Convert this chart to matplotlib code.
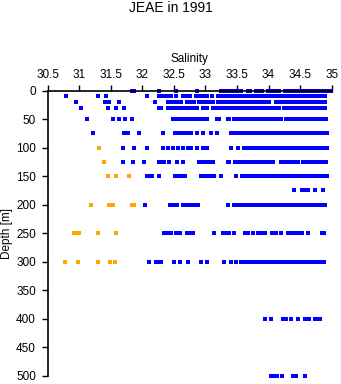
import matplotlib
matplotlib.use("Agg")
import matplotlib.pyplot as plt
import numpy as np

plt.rcParams['font.family'] = ['Liberation Sans', 'DejaVu Sans']

title = "JEAE in 1991"
xlabel = "Salinity"
ylabel = "Depth [m]"
xticks = [30.5, 31, 31.5, 32, 32.5, 33, 33.5, 34, 34.5, 35]
xticklabels = ["30.5", "31", "31.5", "32", "32.5", "33", "33.5", "34", "34.5", "35"]
yticks = [0, 50, 100, 150, 200, 250, 300, 350, 400, 450, 500]

# blue (regular) salinity values per depth
sal_0 = [31.84, 31.86, 32.27, 32.53, 32.87,
         33.25, 33.29, 33.33, 33.37, 33.41, 33.45, 33.49, 33.53, 33.57,
         33.68, 33.70, 33.80, 33.84, 33.87, 33.90, 33.99, 34.03, 34.07, 34.10,
         34.14, 34.17, 34.26, 34.30, 34.35,
         34.39, 34.43, 34.47, 34.51, 34.55, 34.59, 34.63, 34.67, 34.71, 34.75,
         34.79, 34.83, 34.87, 34.91, 34.95, 34.99]
sal_10 = [30.79, 31.30, 31.43, 32.07, 32.27, 32.30, 32.34, 32.40, 32.45, 32.54,
          32.64, 32.68, 32.72, 32.75, 32.85, 32.89, 32.94, 32.99, 33.02, 33.10,
          33.20, 33.24, 33.28, 33.32, 33.36, 33.40, 33.44, 33.47, 33.51, 33.55, 33.58,
          33.62, 33.66, 33.70, 33.74, 33.78, 33.82, 33.86, 33.90, 33.94, 33.98, 34.02,
          34.05, 34.07, 34.11, 34.15, 34.19, 34.23,
          34.26, 34.30, 34.34, 34.38, 34.42, 34.46, 34.50, 34.54, 34.58, 34.62,
          34.66, 34.70, 34.74, 34.78, 34.82, 34.86, 34.89]
sal_20 = [30.95, 31.41, 31.44, 31.47, 31.63, 32.20, 32.40, 32.44, 32.48, 32.52,
          32.54, 32.58, 32.62, 32.71, 32.74, 32.77, 32.80, 32.82,
          32.90, 32.94, 32.98, 33.03, 33.07, 33.10, 33.12,
          33.20, 33.24, 33.28, 33.32, 33.36, 33.40, 33.44, 33.46, 33.50, 33.54, 33.58,
          33.62, 33.66, 33.70, 33.74, 33.78, 33.82, 33.86, 33.90, 33.94, 33.97, 34.00,
          34.11, 34.15, 34.18, 34.25, 34.29, 34.33,
          34.37, 34.41, 34.45, 34.49, 34.53, 34.57, 34.61, 34.65, 34.69, 34.73,
          34.77, 34.81, 34.85, 34.89]
sal_30 = [31.03, 31.45, 31.58, 31.71, 32.27, 32.30, 32.40, 32.44, 32.48, 32.52,
          32.57, 32.61, 32.64, 32.67, 32.74, 32.78, 32.82, 32.86, 32.96, 32.99,
          33.02, 33.12, 33.16, 33.19,
          33.22, 33.26, 33.30, 33.34, 33.38, 33.42, 33.46, 33.50, 33.54, 33.58,
          33.62, 33.66, 33.70, 33.73, 33.76, 33.80, 33.84, 33.88, 33.91, 33.94,
          33.97, 34.01, 34.05, 34.08, 34.13, 34.16,
          34.25, 34.29, 34.33, 34.37, 34.40, 34.43,
          34.47, 34.51, 34.55, 34.59, 34.63, 34.67, 34.71, 34.75, 34.79, 34.83,
          34.87, 34.90]
sal_50 = [31.13, 31.54, 31.63, 31.73, 31.84, 32.48, 32.52, 32.56, 32.60, 32.64,
          32.67, 32.70, 32.74, 32.77, 32.81, 32.84, 32.86, 32.89, 32.93, 32.98,
          33.02, 33.18, 33.22, 33.35, 33.38,
          33.45, 33.49, 33.53, 33.57, 33.61, 33.65, 33.69, 33.73, 33.77, 33.81,
          33.85, 33.89, 33.93, 33.97, 34.01, 34.05, 34.09, 34.13, 34.17, 34.20,
          34.28, 34.32, 34.36, 34.40, 34.44, 34.48, 34.52, 34.56, 34.60, 34.64,
          34.68, 34.72, 34.76, 34.80, 34.84, 34.88, 34.91]
sal_75 = [31.22, 31.71, 31.75, 31.78, 31.95, 32.33, 32.51, 32.58, 32.62, 32.66,
          32.70, 32.73, 32.77, 32.87, 32.96, 33.08, 33.19,
          33.40, 33.44, 33.48, 33.52, 33.54, 33.58, 33.62, 33.66, 33.70, 33.74,
          33.78, 33.83, 33.88, 33.92, 33.96, 34.00, 34.04, 34.08, 34.12, 34.15,
          34.18, 34.22, 34.26, 34.30, 34.34, 34.38, 34.42, 34.46, 34.50, 34.54,
          34.58, 34.62, 34.66, 34.70, 34.74, 34.78, 34.82, 34.86, 34.90, 34.93]
sal_100 = [31.69, 31.86, 32.08, 32.33, 32.41, 32.49, 32.57, 32.65, 32.73, 32.77,
           32.86, 32.96, 33.00, 33.02, 33.40, 33.52, 33.61,
           33.67, 33.71, 33.75, 33.79, 33.83, 33.87, 33.91, 33.95, 33.99, 34.03,
           34.07, 34.11, 34.15, 34.19, 34.23, 34.25,
           34.31, 34.35, 34.39, 34.43, 34.47, 34.51, 34.55, 34.59, 34.63, 34.67,
           34.71, 34.75, 34.79, 34.83, 34.87, 34.90, 34.93]
sal_125 = [31.70, 31.85, 32.03, 32.27, 32.31, 32.35, 32.42, 32.55, 32.65, 32.90,
           32.94, 32.98, 33.02, 33.07, 33.10, 33.12, 33.36, 33.38, 33.46, 33.50,
           33.56, 33.60, 33.65, 33.72, 33.75, 33.78, 33.82, 33.86, 33.91, 33.95,
           33.99, 34.03, 34.07, 34.20, 34.25, 34.31, 34.37, 34.41, 34.47, 34.54,
           34.58, 34.62, 34.66, 34.70, 34.74, 34.78, 34.81, 34.85, 34.88, 34.91]
sal_150 = [32.08, 32.12, 32.15, 32.27, 32.52, 32.56, 32.60, 32.64, 32.67, 32.93,
           32.97, 33.02, 33.07, 33.11, 33.14, 33.24, 33.49, 33.58, 33.62, 33.66,
           33.69, 33.72, 33.76, 33.80, 33.84, 33.88, 33.92, 33.96, 34.00, 34.04,
           34.08, 34.12, 34.16, 34.20, 34.24, 34.28, 34.32, 34.36, 34.40, 34.44,
           34.48, 34.52, 34.56, 34.60, 34.64, 34.68, 34.72, 34.76, 34.80, 34.84,
           34.88, 34.93]
sal_175 = [34.40, 34.53, 34.58, 34.63, 34.73, 34.86]
sal_200 = [32.04, 32.44, 32.48, 32.52, 32.55, 32.64, 32.68, 32.71, 32.74, 32.79,
           32.83, 32.88, 33.35, 33.45, 33.49, 33.53, 33.57, 33.60, 33.63, 33.67,
           33.71, 33.75, 33.78, 33.82, 33.86, 33.90, 33.94, 33.98, 34.02, 34.06,
           34.10, 34.14, 34.18, 34.22, 34.26, 34.30, 34.34, 34.38, 34.42, 34.46,
           34.50, 34.54, 34.58, 34.62, 34.66, 34.70, 34.74, 34.77, 34.81, 34.85, 34.89]
sal_250 = [32.34, 32.37, 32.40, 32.43, 32.46, 32.53, 32.56, 32.59, 32.71, 32.77,
           32.81, 33.14, 33.28, 33.31, 33.35, 33.38, 33.45, 33.62, 33.67, 33.76,
           33.83, 33.86, 33.90, 33.95, 34.05, 34.12, 34.20, 34.30, 34.34, 34.38,
           34.42, 34.46, 34.50, 34.53, 34.63, 34.85, 34.88]
sal_300 = [32.11, 32.21, 32.25, 32.29, 32.50, 32.60, 32.72, 32.93, 33.02, 33.29,
           33.41, 33.48, 33.56, 33.62, 33.66, 33.70, 33.75, 33.81, 33.85, 33.89,
           33.93, 33.97, 34.01, 34.05, 34.09, 34.13, 34.17, 34.21, 34.25, 34.29,
           34.33, 34.37, 34.41, 34.45, 34.49, 34.53, 34.57, 34.61, 34.65, 34.68,
           34.72, 34.76, 34.80, 34.84, 34.88]
sal_400 = [33.94, 34.04, 34.23, 34.28, 34.36, 34.47, 34.57, 34.61, 34.64, 34.73,
           34.77, 34.81]
sal_500 = [34.04, 34.08, 34.12, 34.14, 34.22, 34.38, 34.43, 34.57]

# orange (low-salinity) values per depth
low_100 = [31.32]
low_125 = [31.40]
low_150 = [31.46, 31.59, 31.79]
low_200 = [31.18, 31.47, 31.51, 31.54, 31.83, 31.87]
low_250 = [30.91, 30.95, 31.00, 31.30, 31.58]
low_300 = [30.77, 30.98, 31.30, 31.49, 31.57]

blue_rows = {0: sal_0, 10: sal_10, 20: sal_20, 30: sal_30, 50: sal_50, 75: sal_75,
             100: sal_100, 125: sal_125, 150: sal_150, 175: sal_175, 200: sal_200,
             250: sal_250, 300: sal_300, 400: sal_400, 500: sal_500}
orange_rows = {100: low_100, 125: low_125, 150: low_150, 200: low_200,
               250: low_250, 300: low_300}

bx = [s for d, v in blue_rows.items() for s in v]
by = [d for d, v in blue_rows.items() for s in v]
ox = [s for d, v in orange_rows.items() for s in v]
oy = [d for d, v in orange_rows.items() for s in v]

fig = plt.figure(figsize=(3.41, 3.84), dpi=100)
ax = fig.add_axes([47.7 / 341, 1 - 375.5 / 384, (331.7 - 47.7) / 341, (375.5 - 90.7) / 384])

ax.plot(bx, by, linestyle='none', marker='s', markersize=2.3, markeredgewidth=0,
        color='#0000FF', clip_on=False)
ax.plot(ox, oy, linestyle='none', marker='s', markersize=2.3, markeredgewidth=0,
        color='#FFA500', clip_on=False)

ax.set_xlim(30.5, 35)
ax.set_ylim(500, 0)
ax.xaxis.tick_top()
ax.xaxis.set_label_position('top')
ax.set_xticks(xticks)
ax.set_xticklabels(xticklabels)
ax.set_yticks(yticks)
ax.tick_params(axis='both', direction='out', length=4.5, width=1, labelsize=8.5,
               color='black', labelcolor='black')
ax.tick_params(axis='x', pad=2.5)
ax.tick_params(axis='y', pad=4)
ax.set_xlabel(xlabel, fontsize=8.5, labelpad=5)
ax.set_ylabel(ylabel, fontsize=8.5, labelpad=2)
for side in ['right', 'bottom']:
    ax.spines[side].set_visible(False)
for side in ['top', 'left']:
    ax.spines[side].set_linewidth(1.2)
ax.patch.set_alpha(0)

fig.text(0.5, 1 - 8.5 / 384, title, ha='center', va='center', fontsize=10)

fig.savefig("out.png", dpi=100)
